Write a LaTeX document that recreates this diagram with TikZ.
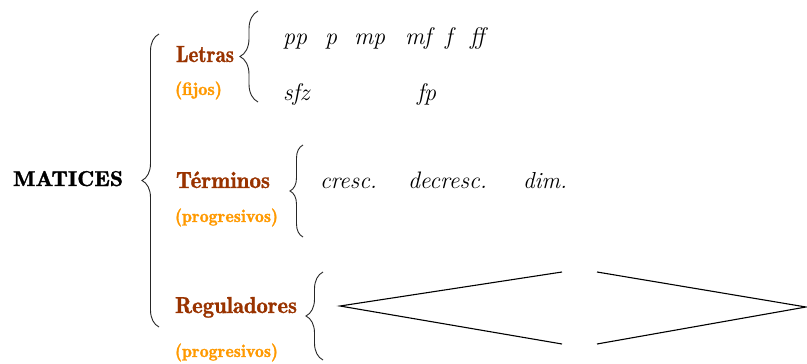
\documentclass[tikz,border=0pt]{standalone}
\usepackage{fontspec}
\usepackage{graphicx}
\newfontfamily\demifont{lmromandemi10-regular}[Extension=.otf, FakeBold=1.2]
\usetikzlibrary{decorations.pathreplacing}
\definecolor{brownlbl}{HTML}{993300}
\definecolor{orangelbl}{HTML}{FF9900}
\newcommand{\fitwh}[3]{\resizebox{#1}{#2}{#3}}
\newcommand{\fitw}[2]{\resizebox{#1}{!}{#2}}
\tikzset{
  lbl/.style={anchor=base west, inner sep=0pt, outer sep=0pt},
  title/.style={lbl, font=\fontsize{23}{28}\selectfont\demifont},
  head/.style={lbl, text=brownlbl, font=\fontsize{23}{27}\selectfont\demifont},
  sub/.style={lbl, text=orangelbl, font=\fontsize{18.5}{22}\selectfont\demifont},
  dyn/.style={lbl, font=\fontsize{24}{28}\selectfont\itshape},
  bracestyle/.style={draw=black!85, line width=0.9pt, decorate,
    decoration={brace, amplitude=#1}},
  hairpin/.style={draw, line width=1.1pt, line join=miter},
}
\begin{document}
\begin{tikzpicture}[x=1pt,y=-1pt]
\useasboundingbox (0,0) rectangle (807,364);
% title
\node[title] (mat) at (13,186) {\fitwh{110pt}{15pt}{MATICES}};
% main brace
\coordinate (mb1) at (159,327);
\coordinate (mb2) at (159,34);
\draw[bracestyle=17pt] (mb1) -- (mb2);
% categories
\node[head] (letras) at (176,62) {\fitwh{58pt}{16pt}{Letras}};
\node[sub] (fijos) at (175,95) {\fitwh{47pt}{13.5pt}{(fijos)}};
\node[head] (terminos) at (176,188) {\fitwh{94pt}{16.5pt}{Términos}};
\node[sub] (prog1) at (175,222) {\fitwh{103pt}{13.5pt}{(progresivos)}};
\node[head] (regul) at (175,313) {\fitwh{122pt}{16pt}{Reguladores}};
\node[sub] (prog2) at (175,357) {\fitwh{103pt}{13.5pt}{(progresivos)}};
% Letras brace
\coordinate (lb1) at (258,102);
\coordinate (lb2) at (258,11);
\draw[bracestyle=18pt] (lb1) -- (lb2);
\node[dyn] (pp) at (283,45) {pp};
\node[dyn] (p) at (325,45) {p};
\node[dyn] (mp) at (354,45) {mp};
\node[dyn] (mf) at (405,45) {mf};
\node[dyn] (f) at (445,45) {f};
\node[dyn] (ff) at (470,45) {ff};
\node[dyn] (sfz) at (283,100) {sfz};
\node[dyn] (fp) at (417,100) {fp};
% Terminos brace
\coordinate (tb1) at (303,237);
\coordinate (tb2) at (303,145);
\draw[bracestyle=13pt] (tb1) -- (tb2);
\node[dyn] (cresc) at (320,188) {\fitw{57pt}{cresc.}};
\node[dyn] (decresc) at (408,188) {\fitw{79pt}{decresc.}};
\node[dyn] (dim) at (523,188) {\fitw{44pt}{dim.}};
% Reguladores brace
\coordinate (rb1) at (323,360);
\coordinate (rb2) at (323,272);
\draw[bracestyle=17pt] (rb1) -- (rb2);
% hairpins
\coordinate (c0) at (340,306);
\coordinate (c1) at (562,272);
\coordinate (c2) at (562,344);
\draw[hairpin] (c1) -- (c0) -- (c2);
\coordinate (d0) at (806,307);
\coordinate (d1) at (597,272);
\coordinate (d2) at (597,344);
\draw[hairpin] (d1) -- (d0) -- (d2);
\end{tikzpicture}
\end{document}
